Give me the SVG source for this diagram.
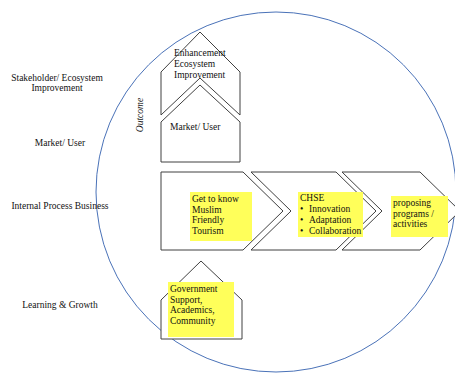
<svg xmlns="http://www.w3.org/2000/svg" width="455" height="374" viewBox="0 0 455 374">
<style>
text{font-family:"Liberation Serif","Times New Roman",serif;font-size:9.5px;fill:#111}
.shape{fill:#fff;stroke:#404040;stroke-width:1}
.hl{fill:#ffff5a}
.lbl{text-anchor:middle}
</style>
<rect width="455" height="374" fill="#fff"/>
<g id="circle">
<circle cx="276" cy="192" r="180" fill="none" stroke="#4a72b8" stroke-width="1"/>
</g>
<g id="left-labels">
<text class="lbl" x="57" y="81">Stakeholder/ Ecosystem</text>
<text class="lbl" x="57" y="91">Improvement</text>
<text class="lbl" x="60" y="146">Market/ User</text>
<text class="lbl" x="60" y="209">Internal Process Business</text>
<text class="lbl" x="60" y="308">Learning &amp; Growth</text>
</g>
<g id="outcome">
<text transform="translate(143,115) rotate(-90)" text-anchor="middle" font-style="italic">Outcome</text>
</g>
<g id="enhancement">
<polygon class="shape" points="200,32 240,72 240,115 200,78 161,115 161,72"/>
<text x="174" y="56">Enhancement</text>
<text x="174" y="67">Ecosystem</text>
<text x="174" y="78">Improvement</text>
</g>
<g id="market">
<polygon class="shape" points="200,85 240,122 240,162 161,162 161,122"/>
<text x="170" y="130">Market/ User</text>
</g>
<g id="process">
<polygon class="shape" points="161,172 243,172 283,211 243,250 161,250"/>
<polygon class="shape" points="251,172 336,172 376,211 336,250 251,250 291,211"/>
<polygon class="shape" points="342,172 420,172 460,211 420,250 342,250 382,211"/>
</g>
<g id="muslim">
<rect class="hl" x="190" y="192" width="62" height="49"/>
<text x="192" y="202">Get to know</text>
<text x="192" y="212.5">Muslim</text>
<text x="192" y="223">Friendly</text>
<text x="192" y="233.5">Tourism</text>
</g>
<g id="chse">
<rect class="hl" x="298" y="192" width="65" height="45"/>
<text x="300" y="201">CHSE</text>
<text x="300" y="212">•</text><text x="309" y="212">Innovation</text>
<text x="300" y="223">•</text><text x="309" y="223">Adaptation</text>
<text x="300" y="234">•</text><text x="309" y="234">Collaboration</text>
</g>
<g id="proposing">
<rect class="hl" x="391" y="196" width="57" height="41"/>
<text x="393" y="206">proposing</text>
<text x="393" y="216.5">programs /</text>
<text x="393" y="227">activities</text>
</g>
<g id="learning">
<polygon class="shape" points="201,261 242,300 242,339 161,339 161,300"/>
<rect class="hl" x="168" y="282" width="66" height="55"/>
<text x="170" y="292">Government</text>
<text x="170" y="302.5">Support,</text>
<text x="170" y="313">Academics,</text>
<text x="170" y="323.5">Community</text>
</g>
</svg>
